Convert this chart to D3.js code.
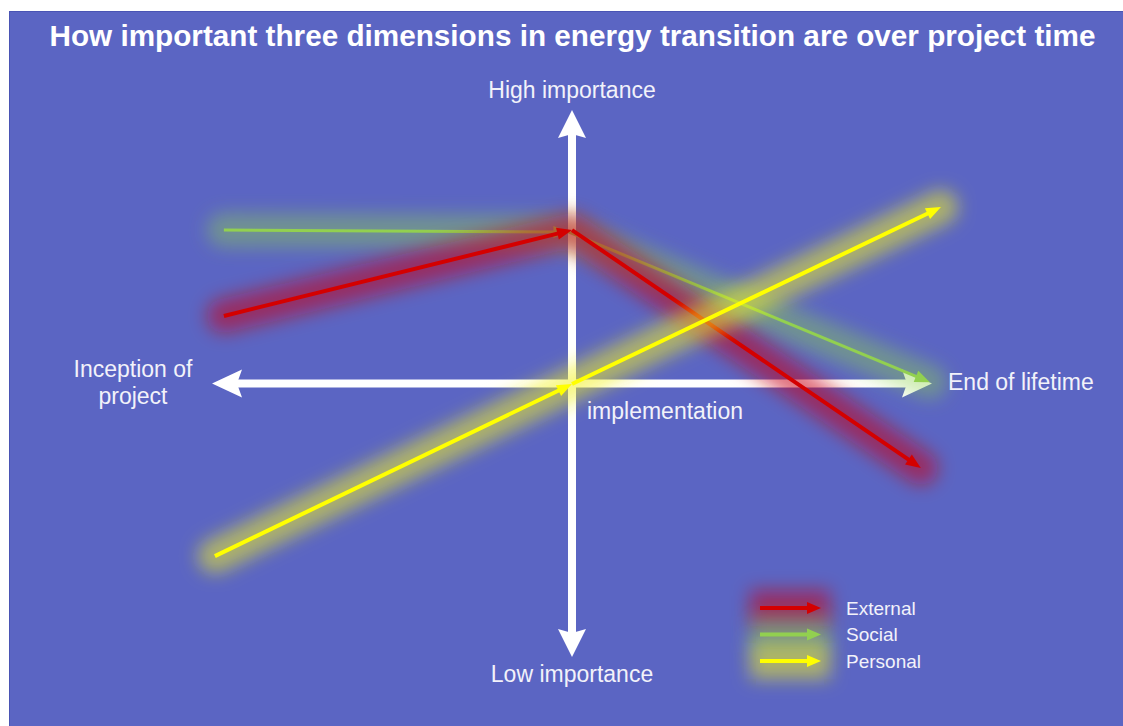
<!DOCTYPE html>
<html><head><meta charset="utf-8">
<script src="https://cdn.jsdelivr.net/npm/d3@7"></script>
<style>
html,body{margin:0;padding:0;background:#fff;}
svg{display:block;}
text{font-family:"Liberation Sans",Arial,sans-serif;}
</style>
</head><body>
<svg id="c" width="1123" height="726"></svg>
<script>
// ---- data ----
const titleText = "How important three dimensions in energy transition are over project time";
const seriesNames = ["External", "Social", "Personal"];
// points: [project time (-1 inception, 0 implementation, 1 end of lifetime), importance (-1 low, 1 high)]
const externalPoints = [[-0.967, 0.247], [0, 0.561], [0.969, -0.309]];
const socialPoints   = [[-0.967, 0.561], [-0.01, 0.554], [0.994, 0.005]];
const personalPoints = [[-0.992, -0.631], [0, -0.002], [1.025, 0.645]];
const yAxisLabels = ["High importance", "Low importance"];
const xAxisLabels = [["Inception of", "project"], ["End of lifetime"]];
const centerLabel = "implementation";

// ---- style ----
const W = 1123, H = 726;
const bg = "#5b65c3";
const textColor = "#f2f2fa";
const colors = {External: "#d40000", Social: "#92d050", Personal: "#ffff00"};
const glowColors = {External: "#c80018", Social: "#8fd14f", Personal: "#f0f020"};
const glowOpacity = {External: 0.55, Social: 0.42, Personal: 0.55};
const pointsBySeries = {External: externalPoints, Social: socialPoints, Personal: personalPoints};

const svg = d3.select("#c");
const defs = svg.append("defs");
const f = defs.append("filter").attr("id", "glow").attr("filterUnits", "userSpaceOnUse")
  .attr("x", 0).attr("y", 0).attr("width", W).attr("height", H);
f.append("feGaussianBlur").attr("stdDeviation", 9);

svg.append("rect").attr("x", 0).attr("y", 0).attr("width", W).attr("height", H).attr("fill", "#fff");
svg.append("rect").attr("x", 9.5).attr("y", 11.5).attr("width", W).attr("height", H)
  .attr("fill", bg).attr("stroke", "#4a54b4").attr("stroke-width", 1);

const x = d3.scaleLinear().domain([-1, 1]).range([212, 932]);
const y = d3.scaleLinear().domain([-1, 1]).range([657, 110]);

// title
svg.append("text").attr("x", 572.5).attr("y", 46).attr("text-anchor", "middle")
  .attr("font-size", 29.7).attr("font-weight", "bold").attr("fill", "#fff").text(titleText);

// ---- axes (double-headed white arrows) ----
function axisArrow(g, p0, p1, width, headLen, headW, notch) {
  const dx = p1[0] - p0[0], dy = p1[1] - p0[1], L = Math.hypot(dx, dy);
  const ux = dx / L, uy = dy / L, nx = -uy, ny = ux;
  const bx = p1[0] - ux * headLen, by = p1[1] - uy * headLen;
  g.append("line").attr("x1", p0[0]).attr("y1", p0[1])
    .attr("x2", bx + ux * (notch + 1)).attr("y2", by + uy * (notch + 1))
    .attr("stroke", "#fff").attr("stroke-width", width);
  const pts = [p1, [bx + nx * headW, by + ny * headW], [bx + ux * notch, by + uy * notch], [bx - nx * headW, by - ny * headW]];
  g.append("polygon").attr("points", pts.map(p => p.join(",")).join(" ")).attr("fill", "#fff");
}
const axes = svg.append("g");
const cx = x(0), cy = y(0);
axisArrow(axes, [cx, cy], [cx, y(1)], 8, 28, 14, 4);
axisArrow(axes, [cx, cy], [cx, y(-1)], 8, 28, 14, 4);
axisArrow(axes, [cx, cy], [x(-1), cy], 8, 30, 14, 5);
axisArrow(axes, [cx, cy], [x(1), cy], 8, 30, 14, 5);

// ---- series ----
function lineArrow(g, p0, p1, color, width, headLen, headW) {
  const dx = p1[0] - p0[0], dy = p1[1] - p0[1], L = Math.hypot(dx, dy);
  const ux = dx / L, uy = dy / L, nx = -uy, ny = ux;
  const bx = p1[0] - ux * headLen, by = p1[1] - uy * headLen;
  g.append("line").attr("x1", p0[0]).attr("y1", p0[1])
    .attr("x2", bx + ux * 2).attr("y2", by + uy * 2)
    .attr("stroke", color).attr("stroke-width", width);
  const pts = [p1, [bx + nx * headW, by + ny * headW], [bx - nx * headW, by - ny * headW]];
  g.append("polygon").attr("points", pts.map(p => p.join(",")).join(" ")).attr("fill", color);
}

const line = d3.line().x(d => x(d[0])).y(d => y(d[1]));
const drawOrder = ["Social", "External", "Personal"];
drawOrder.forEach(name => {
  const pts = pointsBySeries[name];
  const g = svg.append("g");
  g.append("path").attr("d", line(pts)).attr("fill", "none")
    .attr("stroke", glowColors[name]).attr("stroke-opacity", glowOpacity[name])
    .attr("stroke-width", 34).attr("stroke-linecap", "round").attr("stroke-linejoin", "round")
    .attr("filter", "url(#glow)");
  const px = pts.map(d => [x(d[0]), y(d[1])]);
  const w = name === "Social" ? 3 : 4;
  for (let i = 0; i < px.length - 1; i++) {
    lineArrow(g, px[i], px[i + 1], colors[name], w, 15, 6);
  }
});

// ---- labels ----
const lab = svg.append("g").attr("fill", textColor).attr("font-size", 23);
lab.append("text").attr("x", cx).attr("y", 98).attr("text-anchor", "middle").text(yAxisLabels[0]);
lab.append("text").attr("x", cx).attr("y", 682).attr("text-anchor", "middle").text(yAxisLabels[1]);
xAxisLabels[0].forEach((t, i) => {
  lab.append("text").attr("x", 133).attr("y", 377 + i * 27).attr("text-anchor", "middle").text(t);
});
lab.append("text").attr("x", 948).attr("y", 390).text(xAxisLabels[1][0]);
lab.append("text").attr("x", 587).attr("y", 419).text(centerLabel);

// ---- legend ----
const legend = svg.append("g");
seriesNames.forEach((name, i) => {
  const ly = 608 + i * 26.5;
  legend.append("line").attr("x1", 768).attr("x2", 812).attr("y1", ly).attr("y2", ly)
    .attr("stroke", glowColors[name]).attr("stroke-opacity", glowOpacity[name])
    .attr("stroke-width", 36).attr("stroke-linecap", "square")
    .attr("filter", "url(#glow)");
});
seriesNames.forEach((name, i) => {
  const ly = 608 + i * 26.5;
  lineArrow(legend, [760, ly], [821, ly], colors[name], 4, 14, 6);
  legend.append("text").attr("x", 846).attr("y", ly + 6.5).attr("font-size", 19)
    .attr("fill", textColor).text(name);
});
</script>
</body></html>
